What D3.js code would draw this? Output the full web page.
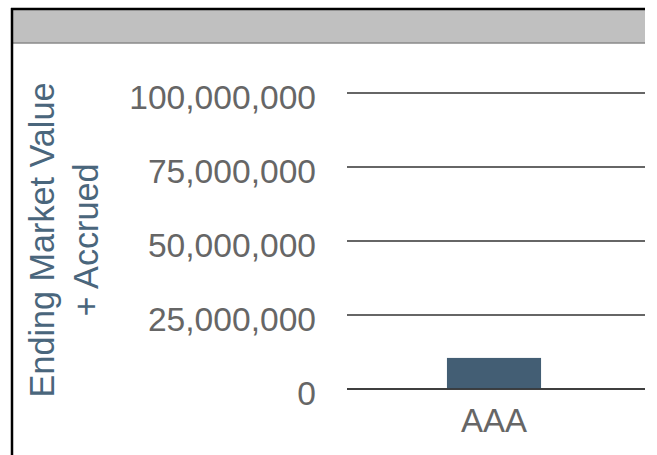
<!DOCTYPE html>
<html>
<head>
<meta charset="utf-8">
<script src="https://cdn.jsdelivr.net/npm/d3@7"></script>
<style>
html,body{margin:0;padding:0;background:#fff;}
svg{display:block;}
text{font-family:"Liberation Sans",Arial,Helvetica,sans-serif;}
</style>
</head>
<body>
<svg id="chart" width="657" height="455"></svg>
<script>
const categories = ["AAA"];
const values = [10500000];
const tickValues = [0, 25000000, 50000000, 75000000, 100000000];
const axisTitleLines = ["Ending Market Value", "+ Accrued"];

const svg = d3.select("#chart");

// frame and header
svg.append("rect").attr("x", 11).attr("y", 10).attr("width", 634).attr("height", 33).attr("fill", "#c0c0c0");
svg.append("line").attr("x1", 11).attr("x2", 645).attr("y1", 43).attr("y2", 43).attr("stroke", "#8a8a8a").attr("stroke-width", 1.5);
svg.append("line").attr("x1", 11).attr("x2", 645).attr("y1", 9).attr("y2", 9).attr("stroke", "#000").attr("stroke-width", 2.5);
svg.append("line").attr("x1", 12).attr("x2", 12).attr("y1", 8).attr("y2", 455).attr("stroke", "#000").attr("stroke-width", 2.5);

const y = d3.scaleLinear().domain([0, 100000000]).range([389, 93]);
const x = d3.scaleBand().domain(categories).range([345, 643]).padding(0.52);

// gridlines
svg.append("g").selectAll("line").data(tickValues).join("line")
  .attr("x1", 347).attr("x2", 645)
  .attr("y1", d => y(d)).attr("y2", d => y(d))
  .attr("stroke", "#333").attr("stroke-width", 1.5);

// tick labels
const fmt = d3.format(",");
svg.append("g").selectAll("text").data(tickValues).join("text")
  .attr("x", 316).attr("y", d => y(d) + 4.5)
  .attr("text-anchor", "end").attr("dominant-baseline", "central")
  .attr("font-size", 33.6).attr("fill", "#666")
  .text(d => fmt(d));

// bars
svg.append("g").selectAll("rect").data(values).join("rect")
  .attr("x", (d, i) => x(categories[i]))
  .attr("width", x.bandwidth())
  .attr("y", d => y(d))
  .attr("height", d => y(0) - y(d))
  .attr("fill", "#435e74");

// baseline on top
svg.append("line").attr("x1", 347).attr("x2", 645).attr("y1", y(0)).attr("y2", y(0)).attr("stroke", "#333").attr("stroke-width", 1.5);

// category labels
svg.append("g").selectAll("text").data(categories).join("text")
  .attr("x", d => x(d) + x.bandwidth() / 2).attr("y", 420)
  .attr("text-anchor", "middle").attr("dominant-baseline", "central")
  .attr("font-size", 33).attr("fill", "#666")
  .text(d => d);

// axis title
const t = svg.append("text").attr("transform", "translate(64,240) rotate(-90)")
  .attr("text-anchor", "middle").attr("font-size", 34.2).attr("fill", "#4a667c");
t.selectAll("tspan").data(axisTitleLines).join("tspan")
  .attr("x", 0).attr("dy", (d, i) => i === 0 ? "-0.3em" : "1.3em")
  .text(d => d);
</script>
</body>
</html>
